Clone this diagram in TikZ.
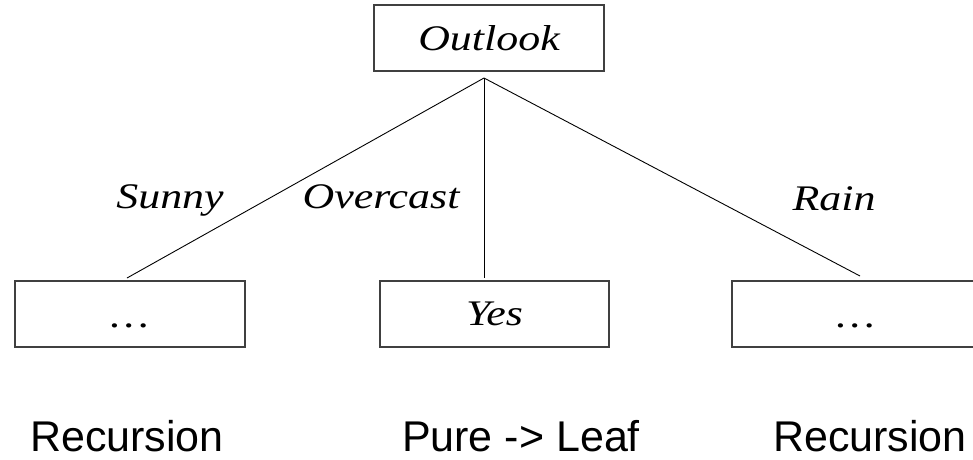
\documentclass[tikz,border=0pt]{standalone}
\usepackage{fontspec}
\setmainfont{Liberation Serif}
\newfontfamily\labelfont[FakeStretch=1.22,ItalicFeatures={FakeStretch=1.22}]{Liberation Serif}
\newfontfamily\notefont{Liberation Sans}
\newcommand{\lowdots}[1][0pt]{\smash{\makebox[0pt]{\hspace*{#1}\raisebox{-13pt}{.\hspace{3.5pt}.\hspace{3.5pt}.}}}}
\begin{document}
\begin{tikzpicture}[x=1pt,y=-1pt,
  box/.style={draw=black!75, line width=1.2pt, minimum width=230pt, minimum height=66pt, inner sep=0pt,
    font=\labelfont\itshape\fontsize{36}{40}\selectfont},
  lbl/.style={anchor=base, inner sep=0pt, font=\labelfont\itshape\fontsize{36}{40}\selectfont},
  note/.style={anchor=base, inner sep=0pt, font=\notefont\fontsize{43}{48}\selectfont},
  edge/.style={draw=black, line width=0.9pt}]
\useasboundingbox (0,0) rectangle (973,459);
\fill[white] (0,0) rectangle (973,459);
% boxes
\node[box] (outlook) at (489,38) {Outlook};
\node[box] (left) at (130,314) {\lowdots};
\node[box, minimum width=229pt] (yes) at (494.5,314) {Yes};
\node[box, minimum width=260pt] (right) at (862,314) {\lowdots[-12pt]};
% connector end points
\coordinate (root) at (484,78);
\coordinate (e1) at (127,278);
\coordinate (e2) at (484,278);
\coordinate (e3) at (860,276);
\draw[edge] (root) -- (e1);
\draw[edge] (root) -- (e2);
\draw[edge] (root) -- (e3);
% edge labels
\node[lbl] (sunny) at (170,208) {Sunny};
\node[lbl] (overcast) at (381,208) {Overcast};
\node[lbl] (rain) at (834,210) {Rain};
% notes
\node[note] (n1) at (127,451) {Recursion};
\node[note] (n2) at (521,451) {Pure -> Leaf};
\node[note] (n3) at (870,451) {Recursion};
\end{tikzpicture}
\end{document}
